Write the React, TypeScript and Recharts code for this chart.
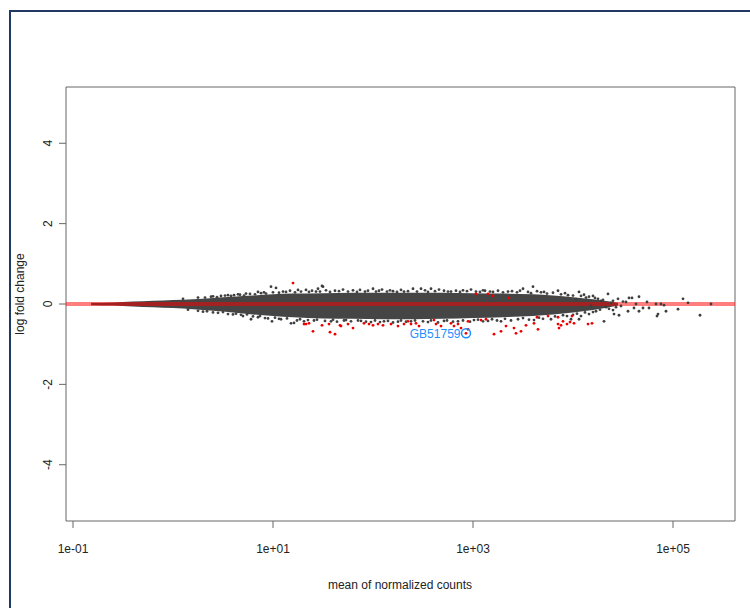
import React from 'react';
import {
  ComposedChart,
  Area,
  Scatter,
  XAxis,
  YAxis,
  ReferenceLine,
  ReferenceDot,
  ReferenceArea,
} from 'recharts';

// log10(mean of normalized counts) positions of the dense core envelope
const envLog = [-0.82, -0.6, -0.4, -0.2, 0.0, 0.2, 0.4, 0.6, 0.8, 1.0, 1.2, 1.5, 1.8, 2.1, 2.4, 2.7, 3.0, 3.3, 3.6, 3.8, 4.0, 4.2, 4.35, 4.45];
const envLow = [-0.03, -0.04, -0.06, -0.08, -0.1, -0.13, -0.17, -0.21, -0.26, -0.3, -0.33, -0.36, -0.37, -0.38, -0.38, -0.37, -0.35, -0.33, -0.3, -0.26, -0.21, -0.15, -0.09, -0.04];
const envHigh = [0.03, 0.04, 0.06, 0.08, 0.1, 0.12, 0.15, 0.18, 0.21, 0.24, 0.26, 0.27, 0.28, 0.28, 0.28, 0.28, 0.27, 0.26, 0.24, 0.21, 0.17, 0.12, 0.07, 0.03];

// non-significant genes outside the dense core (log10 mean, log fold change)
const grayLog = [
  0.1, 0.25, 0.4, 0.48, 0.55, 0.61, 0.65, 0.73, 0.85, 0.91, 0.98, 1.03, 1.1, 1.25, 1.33, 1.43, 1.45, 1.49, 1.5, 1.62,
  1.8, 1.92, 2.0, 2.06, 2.2, 2.31, 2.4, 2.48, 2.58, 2.71, 2.78, 2.9, 3.03, 3.12, 3.2, 3.35, 3.5, 3.6, 3.68, 3.71,
  3.85, 3.95, 4.03, 4.06, 4.11, 4.13, 4.2, 4.25, 4.28, 4.35, 4.38, 4.45, 4.53, 4.56, 4.59, 4.63, 4.66, 4.74, 4.83, 4.88,
  4.91, 5.1, 5.15, 5.38,
  0.15, 0.3, 0.45, 0.6, 0.7, 0.78, 0.85, 0.95, 0.99, 1.06, 1.18, 1.21, 1.31, 1.41, 1.58, 1.71, 1.88, 1.98, 2.11, 2.25,
  2.38, 2.55, 2.71, 2.85, 3.01, 3.15, 3.28, 3.45, 3.61, 3.78, 3.94, 3.98, 4.06, 4.08, 4.16, 4.18, 4.23, 4.31, 4.33, 4.4,
  4.41, 4.46, 4.48, 4.55, 4.61, 4.66, 4.7, 4.76, 4.84, 4.85, 4.93, 5.05, 5.27,
];
const grayLfc = [
  0.13, 0.16, 0.19, 0.2, 0.22, 0.22, 0.24, 0.26, 0.3, 0.29, 0.43, 0.4, 0.31, 0.35, 0.35, 0.31, 0.38, 0.45, 0.43, 0.33,
  0.34, 0.31, 0.38, 0.33, 0.32, 0.31, 0.38, 0.38, 0.38, 0.33, 0.31, 0.34, 0.31, 0.33, 0.3, 0.31, 0.38, 0.43, 0.29, 0.3,
  0.33, 0.22, 0.12, 0.3, 0.23, 0.16, 0.2, 0.13, 0.08, 0.25, 0.03, 0.13, 0.05, 0.15, 0.15, 0.0, 0.18, 0.05, 0.0, 0.0,
  -0.03, 0.13, 0.03, 0.0,
  -0.14, -0.19, -0.22, -0.26, -0.3, -0.38, -0.33, -0.36, -0.43, -0.37, -0.48, -0.47, -0.43, -0.41, -0.43, -0.41, -0.42, -0.45, -0.43, -0.44,
  -0.43, -0.45, -0.42, -0.43, -0.4, -0.42, -0.43, -0.38, -0.4, -0.38, -0.3, -0.38, -0.38, -0.3, -0.25, -0.05, -0.18, -0.43, -0.08, -0.15,
  -0.25, -0.28, -0.05, -0.18, -0.1, -0.18, -0.1, -0.1, -0.3, -0.25, -0.18, -0.13, -0.28,
];

// non-significant genes speckling the edge of the dense core
const edgeLog = [
  0.32, 0.38, 0.44, 0.52, 0.58, 0.67, 0.71, 0.77, 0.82, 0.88, 0.93, 1.0, 1.06, 1.13, 1.17, 1.22, 1.28, 1.36, 1.39, 1.47,
  1.53, 1.57, 1.66, 1.7, 1.75, 1.84, 1.87, 1.95, 2.03, 2.09, 2.14, 2.17, 2.24, 2.28, 2.35, 2.44, 2.52, 2.55, 2.62, 2.66,
  2.75, 2.83, 2.87, 2.94, 2.98, 3.07, 3.1, 3.17, 3.25, 3.3, 3.39, 3.44, 3.47, 3.55, 3.58, 3.64, 3.74, 3.8, 3.88, 3.92,
  4.0, 4.08, 4.16, 4.22, 4.3, 4.4, 4.5,
  0.25, 0.34, 0.4, 0.5, 0.55, 0.63, 0.68, 0.74, 0.8, 0.87, 0.92, 1.02, 1.08, 1.14, 1.24, 1.27, 1.35, 1.44, 1.52, 1.6,
  1.64, 1.73, 1.78, 1.85, 1.93, 2.02, 2.07, 2.15, 2.2, 2.28, 2.33, 2.42, 2.5, 2.58, 2.65, 2.74, 2.8, 2.9, 2.97, 3.05,
  3.1, 3.19, 3.24, 3.32, 3.38, 3.5, 3.56, 3.66, 3.7, 3.82, 3.9, 4.0, 4.04, 4.12, 4.2, 4.27, 4.36, 4.43,
];
const edgeLfc = [
  0.16, 0.18, 0.17, 0.21, 0.2, 0.23, 0.21, 0.25, 0.24, 0.27, 0.26, 0.29, 0.28, 0.3, 0.33, 0.29, 0.31, 0.3, 0.33, 0.31,
  0.34, 0.3, 0.32, 0.36, 0.31, 0.3, 0.35, 0.33, 0.31, 0.36, 0.31, 0.34, 0.3, 0.35, 0.32, 0.31, 0.34, 0.3, 0.32, 0.36,
  0.31, 0.33, 0.3, 0.32, 0.36, 0.3, 0.34, 0.31, 0.33, 0.29, 0.32, 0.29, 0.33, 0.3, 0.27, 0.32, 0.26, 0.28, 0.24, 0.27,
  0.21, 0.2, 0.18, 0.15, 0.1, 0.08, 0.06,
  -0.17, -0.18, -0.21, -0.2, -0.25, -0.24, -0.27, -0.26, -0.31, -0.3, -0.35, -0.34, -0.38, -0.36, -0.41, -0.38, -0.4, -0.39, -0.42, -0.39,
  -0.44, -0.4, -0.43, -0.41, -0.44, -0.41, -0.45, -0.42, -0.46, -0.41, -0.44, -0.41, -0.43, -0.41, -0.46, -0.41, -0.44, -0.41, -0.44, -0.39,
  -0.43, -0.38, -0.41, -0.37, -0.41, -0.35, -0.39, -0.34, -0.37, -0.31, -0.28, -0.27, -0.24, -0.21, -0.2, -0.14, -0.12, -0.08,
];

// significant genes (red)
const redLog = [
  1.2, 1.31, 1.33, 1.36, 1.4, 1.49, 1.56, 1.57, 1.62, 1.67, 1.68, 1.75, 1.8, 1.91, 1.96, 2.0, 2.05, 2.1, 2.18, 2.25,
  2.31, 2.35, 2.38, 2.43, 2.46, 2.61, 2.63, 2.68, 2.78, 2.81, 2.85, 2.88, 2.93, 2.95, 2.95, 3.03, 3.08, 3.13, 3.15, 3.2,
  3.21, 3.28, 3.33, 3.36, 3.41, 3.43, 3.48, 3.53, 3.61, 3.64, 3.65, 3.75, 3.85, 3.85, 3.86, 3.88, 3.9, 3.94, 3.97, 3.99,
  4.01, 4.15, 4.19,
];
const redLfc = [
  0.52, -0.5, -0.5, -0.48, -0.68, -0.53, -0.5, -0.7, -0.75, -0.53, -0.55, -0.5, -0.6, -0.48, -0.5, -0.53, -0.5, -0.53, -0.5, -0.55,
  -0.5, -0.43, -0.5, -0.48, -0.55, -0.4, -0.5, -0.55, -0.48, -0.55, -0.5, -0.6, -0.73, -0.43, -0.63, 0.25, -0.4, -0.38, 0.25, 0.2,
  -0.75, -0.68, -0.55, 0.15, -0.6, -0.73, -0.68, -0.53, -0.48, -0.33, -0.63, -0.3, -0.5, -0.33, -0.6, -0.53, -0.43, -0.5, -0.45, -0.3,
  -0.48, -0.5, -0.48,
];

const xTicks = [-1, 1, 3, 5];
const xTickLabels = ['1e-01', '1e+01', '1e+03', '1e+05'];
const yTicks = [-4, -2, 0, 2, 4];
const labeledGene = { name: 'GB51759', logMean: 2.93, lfc: -0.73 };

const xDomain: [number, number] = [-1.07, 5.62];
const yDomain: [number, number] = [-5.4, 5.4];

const envelope = envLog.map((L, i) => ({ L, band: [envLow[i], envHigh[i]] }));
const grayPts = grayLog.map((L, i) => ({ L, v: grayLfc[i] }));
const edgePts = edgeLog.map((L, i) => ({ L, v: edgeLfc[i] }));
const redPts = redLog.map((L, i) => ({ L, v: redLfc[i] }));

const FONT = '"Liberation Sans", Arial, Helvetica, sans-serif';

const dot = (color: string) => (p: any) => (
  <circle cx={p.cx} cy={p.cy} r={1.4} fill={color} />
);

const XTick = (p: any) => {
  const idx = xTicks.indexOf(p.payload.value);
  return (
    <text x={p.x} y={553} textAnchor="middle" fontSize={12} fill="#222" fontFamily={FONT}>
      {idx >= 0 ? xTickLabels[idx] : ''}
    </text>
  );
};

const YTick = (p: any) => {
  const x = 52;
  return (
    <text
      x={x}
      y={p.y}
      transform={`rotate(-90 ${x} ${p.y})`}
      textAnchor="middle"
      fontSize={12}
      fill="#222"
      fontFamily={FONT}
    >
      {String(p.payload.value)}
    </text>
  );
};

export default function App() {
  return (
    <div style={{ position: 'absolute', left: 0, top: 0, width: 750, height: 608, background: '#fff', overflow: 'hidden' }}>
      <div
        style={{
          position: 'absolute',
          left: 9,
          top: 10,
          width: 760,
          height: 620,
          borderLeft: '2px solid #203864',
          borderTop: '2px solid #203864',
          boxSizing: 'border-box',
        }}
      />
      <div style={{ position: 'absolute', left: 0, top: 0 }}>
        <ComposedChart
          width={750}
          height={608}
          data={envelope}
          margin={{ top: 87, right: 15, bottom: 0, left: 0 }}
          style={{ fontFamily: FONT }}
        >
          <XAxis
            dataKey="L"
            type="number"
            domain={xDomain}
            allowDataOverflow
            ticks={xTicks}
            interval={0}
            height={87}
            axisLine={false}
            tickLine={{ stroke: '#666' }}
            tickSize={7}
            tick={<XTick />}
            label={{
              content: () => (
                <text x={400} y={589} textAnchor="middle" fontSize={12} fill="#222" fontFamily={FONT}>
                  mean of normalized counts
                </text>
              ),
            }}
          />
          <YAxis
            dataKey="v"
            type="number"
            domain={yDomain}
            allowDataOverflow
            ticks={yTicks}
            interval={0}
            width={66}
            axisLine={false}
            tickLine={{ stroke: '#666' }}
            tickSize={7}
            tick={<YTick />}
            label={{
              content: () => (
                <text
                  x={24}
                  y={294}
                  transform="rotate(-90 24 294)"
                  textAnchor="middle"
                  fontSize={12}
                  fill="#222"
                  fontFamily={FONT}
                >
                  log fold change
                </text>
              ),
            }}
          />
          <Area
            dataKey="band"
            type="monotone"
            stroke="none"
            fill="#454545"
            fillOpacity={1}
            isAnimationActive={false}
            activeDot={false}
          />
          <Scatter data={edgePts} dataKey="v" shape={dot('#444444')} isAnimationActive={false} />
          <Scatter data={grayPts} dataKey="v" shape={dot('#3e3e3e')} isAnimationActive={false} />
          <Scatter data={redPts} dataKey="v" shape={dot('#ee0000')} isAnimationActive={false} />
          <ReferenceLine y={0} stroke="#ff0000" strokeOpacity={0.5} strokeWidth={4} />
          <ReferenceDot
            x={labeledGene.logMean}
            y={labeledGene.lfc}
            r={4.5}
            fill="none"
            stroke="#1E90FF"
            strokeWidth={1.5}
            label={{
              value: labeledGene.name,
              position: 'left',
              offset: 1,
              fill: '#1E90FF',
              fontSize: 12,
              fontFamily: FONT,
            }}
          />
          <ReferenceArea
            x1={xDomain[0]}
            x2={xDomain[1]}
            y1={yDomain[0]}
            y2={yDomain[1]}
            fill="none"
            stroke="#666"
            strokeWidth={1}
            ifOverflow="visible"
          />
        </ComposedChart>
      </div>
    </div>
  );
}
